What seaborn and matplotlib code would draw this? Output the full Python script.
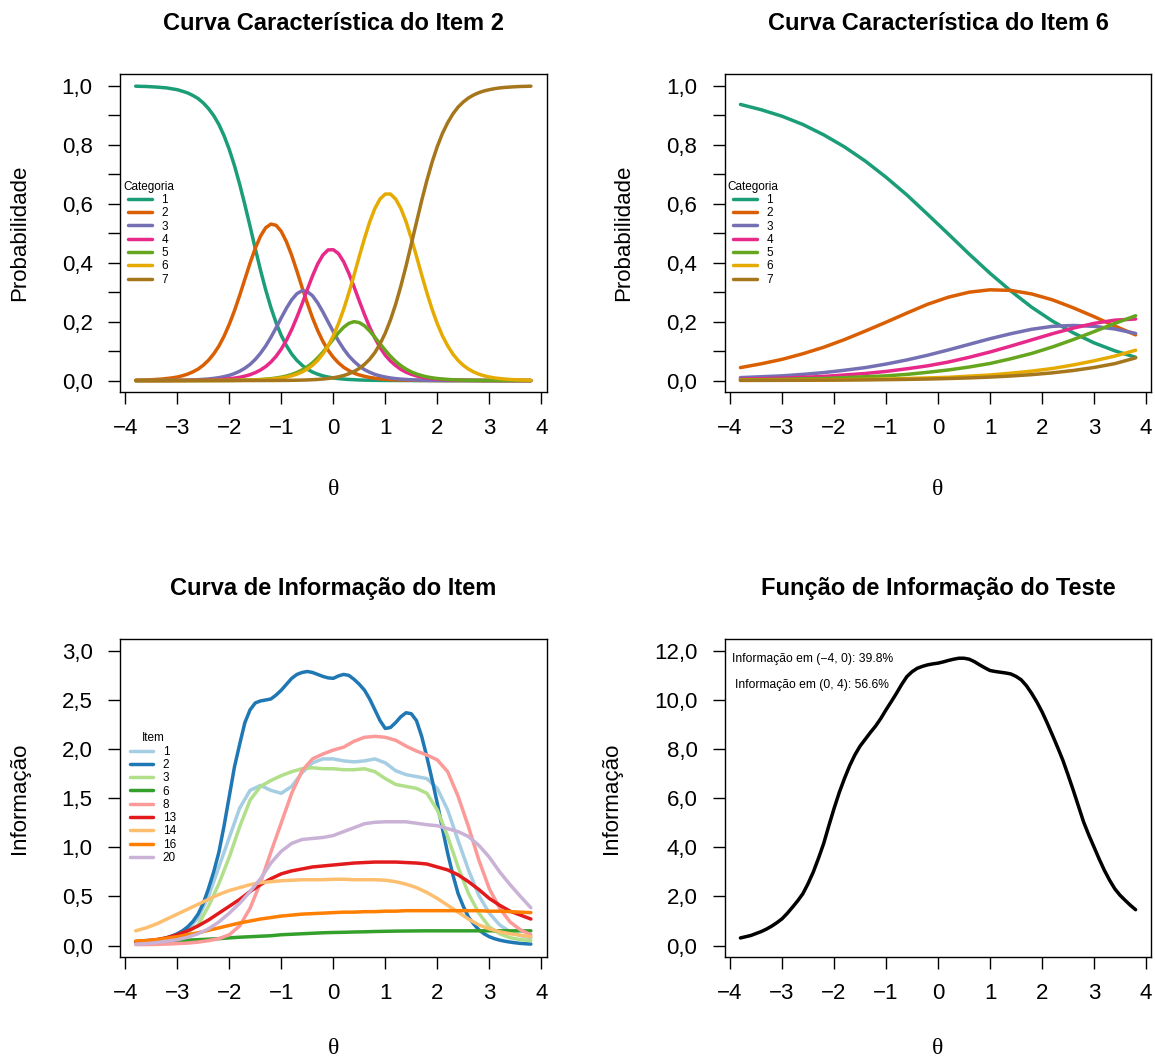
import matplotlib
matplotlib.use('Agg')
import matplotlib.pyplot as plt
import seaborn as sns

# grade de theta com passo 0,1 (painel 1 e curvas mais curvas)
theta_fino = [round(-3.8 + 0.1 * i, 1) for i in range(77)]
# grade com passo 0,2 (painel 3)
theta = [round(-3.8 + 0.2 * i, 1) for i in range(39)]
# grade com passo 0,4 (painel 2)
theta6 = [round(-3.8 + 0.4 * i, 1) for i in range(20)]

# Item 2 - probabilidade por categoria (passo 0,1)
item2_cat1 = [0.999, 0.9983, 0.998, 0.997, 0.996, 0.9945, 0.993, 0.990, 0.987, 0.9818,
              0.976, 0.9674, 0.957, 0.9421, 0.923, 0.8993, 0.869, 0.8306, 0.784, 0.7291,
              0.666, 0.5963, 0.523, 0.4477, 0.375, 0.3079, 0.248, 0.1962, 0.153, 0.1182,
              0.090, 0.0685, 0.052, 0.0388, 0.029, 0.0216, 0.016, 0.012, 0.009, 0.0066,
              0.005, 0.0037, 0.003, 0.002, 0.0015, 0.0011, 0.0008, 0.0006, 0.0004, 0.0003,
              0.0002, 0.0002, 0.0001, 0.0001, 0, 0, 0, 0, 0, 0,
              0, 0, 0, 0, 0, 0, 0, 0, 0, 0,
              0, 0, 0, 0, 0, 0, 0]
item2_cat2 = [0.001, 0.0015, 0.002, 0.0028, 0.004, 0.005, 0.007, 0.0091, 0.012, 0.0164,
              0.022, 0.0295, 0.039, 0.0522, 0.069, 0.0904, 0.117, 0.1507, 0.191, 0.2374,
              0.289, 0.3442, 0.399, 0.4489, 0.490, 0.5185, 0.531, 0.5269, 0.506, 0.4708,
              0.425, 0.3718, 0.316, 0.2628, 0.213, 0.1699, 0.133, 0.1031, 0.079, 0.060,
              0.045, 0.0341, 0.025, 0.019, 0.0145, 0.0106, 0.008, 0.0058, 0.0044, 0.0032,
              0.0024, 0.0018, 0.0013, 0.001, 0.0007, 0.0006, 0.0004, 0.0003, 0.0002, 0.0001,
              0.0001, 0, 0, 0, 0, 0, 0, 0, 0, 0,
              0, 0, 0, 0, 0, 0, 0]
item2_cat3 = [0, 0.0001, 0.0002, 0.0002, 0.0003, 0.0004, 0.0005, 0.0007, 0.0009, 0.0012,
              0.0017, 0.0023, 0.003, 0.0041, 0.0055, 0.0074, 0.0099, 0.0133, 0.0178, 0.0238,
              0.0317, 0.0419, 0.055, 0.0717, 0.0927, 0.1174, 0.1465, 0.1789, 0.213, 0.2458,
              0.274, 0.2947, 0.305, 0.3019, 0.288, 0.2636, 0.233, 0.1992, 0.166, 0.1344,
              0.107, 0.0836, 0.065, 0.0495, 0.037, 0.0282, 0.021, 0.0159, 0.012, 0.0088,
              0.0066, 0.0049, 0.0037, 0.0027, 0.0021, 0.0015, 0.0011, 0.0008, 0.0006, 0.0004,
              0.0003, 0.0002, 0.0002, 0.0001, 0.0001, 0, 0, 0, 0, 0,
              0, 0, 0, 0, 0, 0, 0]
item2_cat4 = [0, 0, 0, 0, 0.0001, 0.0001, 0.0002, 0.0002, 0.0003, 0.0004,
              0.0006, 0.0008, 0.001, 0.0014, 0.0019, 0.0025, 0.0034, 0.0046, 0.0062, 0.0083,
              0.0112, 0.015, 0.0201, 0.0269, 0.0359, 0.0475, 0.0628, 0.0823, 0.107, 0.137,
              0.173, 0.2148, 0.260, 0.3086, 0.355, 0.3956, 0.426, 0.4434, 0.444, 0.4308,
              0.403, 0.3637, 0.318, 0.2702, 0.224, 0.1811, 0.144, 0.1124, 0.086, 0.0663,
              0.051, 0.0379, 0.0284, 0.0213, 0.0159, 0.0118, 0.0089, 0.0066, 0.005, 0.0036,
              0.0028, 0.0021, 0.0015, 0.0012, 0.0008, 0.0006, 0.0005, 0.0003, 0.0002, 0.0002,
              0.0001, 0.0001, 0, 0, 0, 0, 0]
item2_cat5 = [0, 0, 0, 0, 0, 0, 0, 0, 0, 0,
              0, 0.0001, 0.0001, 0.0001, 0.0002, 0.0003, 0.0003, 0.0004, 0.0006, 0.0008,
              0.0011, 0.0015, 0.002, 0.0027, 0.0036, 0.0048, 0.0064, 0.0086, 0.0116, 0.0155,
              0.0206, 0.0272, 0.0359, 0.0468, 0.060, 0.0769, 0.0963, 0.1178, 0.1406, 0.1623,
              0.181, 0.1942, 0.200, 0.1967, 0.186, 0.1684, 0.147, 0.1245, 0.103, 0.0824,
              0.065, 0.0506, 0.0389, 0.0296, 0.0224, 0.0169, 0.0126, 0.0094, 0.007, 0.0052,
              0.0039, 0.0029, 0.0022, 0.0016, 0.0012, 0.0009, 0.0007, 0.0005, 0.0004, 0.0003,
              0.0002, 0.0001, 0.0001, 0, 0, 0, 0]
item2_cat6 = [0, 0, 0, 0, 0, 0, 0, 0, 0, 0,
              0, 0, 0, 0, 0.0001, 0.0002, 0.0003, 0.0003, 0.0005, 0.0006,
              0.0008, 0.0011, 0.0015, 0.002, 0.0027, 0.0037, 0.005, 0.0067, 0.0089, 0.0121,
              0.0162, 0.0218, 0.0292, 0.039, 0.0518, 0.0685, 0.0901, 0.1175, 0.1516, 0.1932,
              0.242, 0.2978, 0.358, 0.4215, 0.482, 0.5382, 0.584, 0.6163, 0.633, 0.633,
              0.616, 0.5839, 0.539, 0.4827, 0.422, 0.3586, 0.298, 0.2421, 0.193, 0.1516,
              0.118, 0.0901, 0.0685, 0.0518, 0.039, 0.0292, 0.0218, 0.0163, 0.0121, 0.009,
              0.0069, 0.005, 0.0038, 0.0028, 0.0021, 0.0016, 0.0012]
item2_cat7 = [0, 0, 0, 0, 0, 0, 0, 0, 0, 0,
              0, 0, 0, 0, 0, 0, 0, 0, 0, 0,
              0, 0.0001, 0.0001, 0.0001, 0.0001, 0.0002, 0.0003, 0.0004, 0.0005, 0.0006,
              0.0009, 0.0012, 0.0016, 0.0021, 0.0029, 0.0039, 0.0052, 0.007, 0.0094, 0.0127,
              0.0171, 0.023, 0.031, 0.0411, 0.055, 0.0724, 0.095, 0.1245, 0.161, 0.2059,
              0.259, 0.3208, 0.389, 0.4626, 0.537, 0.6106, 0.679, 0.7408, 0.794, 0.8389,
              0.875, 0.9047, 0.928, 0.9453, 0.959, 0.9692, 0.977, 0.9829, 0.987, 0.9905,
              0.993, 0.9948, 0.996, 0.9971, 0.998, 0.9984, 0.999]

# Item 6 - curvas suaves (passo 0,4)
item6_cat1 = [0.937, 0.919, 0.897, 0.869, 0.834, 0.793, 0.745, 0.690, 0.630, 0.564,
              0.497, 0.429, 0.364, 0.304, 0.249, 0.202, 0.162, 0.128, 0.101, 0.079]
item6_cat2 = [0.044, 0.057, 0.072, 0.091, 0.113, 0.139, 0.168, 0.198, 0.229, 0.259,
              0.283, 0.300, 0.308, 0.306, 0.294, 0.274, 0.247, 0.217, 0.185, 0.155]
item6_cat3 = [0.010, 0.013, 0.016, 0.021, 0.027, 0.035, 0.044, 0.056, 0.070, 0.086,
              0.104, 0.123, 0.142, 0.159, 0.174, 0.184, 0.187, 0.184, 0.175, 0.160]
item6_cat4 = [0.005, 0.006, 0.008, 0.011, 0.014, 0.019, 0.024, 0.031, 0.040, 0.050,
              0.063, 0.079, 0.097, 0.117, 0.138, 0.159, 0.178, 0.194, 0.205, 0.209]
item6_cat5 = [0.003, 0.003, 0.004, 0.006, 0.007, 0.010, 0.013, 0.016, 0.021, 0.028,
              0.036, 0.046, 0.058, 0.074, 0.092, 0.114, 0.139, 0.166, 0.194, 0.220]
item6_cat6 = [0.001, 0.001, 0.001, 0.002, 0.002, 0.003, 0.004, 0.005, 0.007, 0.009,
              0.011, 0.015, 0.019, 0.025, 0.032, 0.041, 0.053, 0.067, 0.083, 0.103]
item6_cat7 = [0.0005, 0.0006, 0.0008, 0.001, 0.0014, 0.0018, 0.0023, 0.0031, 0.004, 0.0052,
              0.0069, 0.009, 0.0118, 0.0154, 0.0201, 0.0262, 0.0342, 0.0444, 0.0574, 0.077]

# Informacao dos itens (passo 0,2; item 2 com passo 0,1)
info_i1 = [0.02, 0.025, 0.035, 0.06, 0.09, 0.16, 0.28, 0.50, 0.80, 1.10,
           1.40, 1.58, 1.63, 1.58, 1.55, 1.62, 1.76, 1.86, 1.90, 1.90,
           1.88, 1.87, 1.88, 1.90, 1.86, 1.78, 1.74, 1.72, 1.70, 1.60,
           1.38, 1.07, 0.77, 0.51, 0.33, 0.21, 0.14, 0.10, 0.08]
info_i2 = [0.04, 0.042, 0.045, 0.05, 0.055, 0.066, 0.08, 0.098, 0.12, 0.15,
           0.19, 0.245, 0.32, 0.43, 0.58, 0.75, 0.95, 1.22, 1.52, 1.82,
           2.05, 2.27, 2.40, 2.47, 2.49, 2.50, 2.51, 2.55, 2.60, 2.66,
           2.72, 2.76, 2.78, 2.79, 2.78, 2.76, 2.74, 2.725, 2.72, 2.745,
           2.76, 2.75, 2.71, 2.66, 2.60, 2.51, 2.40, 2.29, 2.21, 2.22,
           2.27, 2.33, 2.37, 2.36, 2.29, 2.13, 1.92, 1.69, 1.45, 1.19,
           0.94, 0.72, 0.53, 0.40, 0.29, 0.22, 0.16, 0.12, 0.09, 0.07,
           0.055, 0.044, 0.035, 0.028, 0.022, 0.018, 0.015]
info_i3 = [0.015, 0.02, 0.025, 0.04, 0.07, 0.13, 0.21, 0.40, 0.63, 0.90,
           1.21, 1.48, 1.62, 1.68, 1.73, 1.77, 1.80, 1.81, 1.80, 1.80,
           1.79, 1.79, 1.80, 1.77, 1.70, 1.64, 1.62, 1.60, 1.55, 1.38,
           1.11, 0.80, 0.53, 0.33, 0.19, 0.12, 0.08, 0.06, 0.05]
info_i6 = [0.03, 0.035, 0.04, 0.045, 0.05, 0.055, 0.06, 0.065, 0.07, 0.078,
           0.085, 0.09, 0.095, 0.10, 0.11, 0.115, 0.12, 0.125, 0.13, 0.133,
           0.135, 0.138, 0.14, 0.143, 0.145, 0.147, 0.148, 0.149, 0.15, 0.15,
           0.15, 0.15, 0.15, 0.15, 0.15, 0.15, 0.15, 0.15, 0.15]
info_i8 = [0.01, 0.01, 0.012, 0.015, 0.02, 0.025, 0.035, 0.05, 0.07, 0.11,
           0.20, 0.38, 0.64, 0.95, 1.25, 1.55, 1.78, 1.90, 1.95, 1.99,
           2.02, 2.08, 2.12, 2.13, 2.12, 2.09, 2.03, 1.98, 1.94, 1.89,
           1.77, 1.52, 1.21, 0.87, 0.58, 0.38, 0.24, 0.16, 0.11]
info_i13 = [0.04, 0.05, 0.06, 0.08, 0.11, 0.15, 0.20, 0.26, 0.33, 0.40,
            0.47, 0.55, 0.62, 0.68, 0.73, 0.76, 0.78, 0.80, 0.81, 0.82,
            0.83, 0.84, 0.845, 0.85, 0.85, 0.85, 0.845, 0.84, 0.83, 0.80,
            0.77, 0.72, 0.65, 0.57, 0.48, 0.41, 0.35, 0.31, 0.27]
info_i14 = [0.15, 0.18, 0.22, 0.27, 0.32, 0.37, 0.42, 0.47, 0.52, 0.56,
            0.59, 0.62, 0.64, 0.65, 0.66, 0.665, 0.67, 0.67, 0.67, 0.675,
            0.675, 0.67, 0.67, 0.67, 0.665, 0.65, 0.625, 0.59, 0.54, 0.48,
            0.41, 0.34, 0.27, 0.21, 0.17, 0.14, 0.12, 0.105, 0.09]
info_i16 = [0.045, 0.05, 0.06, 0.075, 0.09, 0.11, 0.13, 0.155, 0.18, 0.205,
            0.23, 0.25, 0.27, 0.285, 0.30, 0.31, 0.32, 0.325, 0.33, 0.335,
            0.34, 0.34, 0.345, 0.345, 0.35, 0.35, 0.355, 0.355, 0.355, 0.355,
            0.355, 0.355, 0.355, 0.355, 0.35, 0.35, 0.345, 0.34, 0.335]
info_i20 = [0.015, 0.02, 0.03, 0.045, 0.06, 0.085, 0.12, 0.17, 0.24, 0.33,
            0.43, 0.55, 0.68, 0.84, 0.96, 1.04, 1.08, 1.09, 1.10, 1.12,
            1.16, 1.20, 1.24, 1.255, 1.26, 1.26, 1.26, 1.245, 1.23, 1.22,
            1.19, 1.16, 1.11, 1.02, 0.90, 0.75, 0.62, 0.50, 0.385]

# Informacao do teste (passo 0,1)
info_teste = [0.31, 0.36, 0.41, 0.49, 0.57, 0.67, 0.79, 0.93, 1.09, 1.31,
              1.56, 1.82, 2.11, 2.52, 2.99, 3.55, 4.15, 4.88, 5.58, 6.23,
              6.80, 7.32, 7.76, 8.12, 8.40, 8.68, 8.94, 9.25, 9.60, 9.93,
              10.27, 10.63, 10.95, 11.15, 11.29, 11.37, 11.43, 11.47, 11.50, 11.55,
              11.61, 11.66, 11.70, 11.70, 11.66, 11.56, 11.43, 11.31, 11.20, 11.16,
              11.13, 11.10, 11.06, 10.96, 10.82, 10.58, 10.27, 9.92, 9.52, 9.06,
              8.57, 8.07, 7.55, 6.95, 6.33, 5.68, 5.03, 4.50, 4.01, 3.52,
              3.06, 2.66, 2.31, 2.05, 1.84, 1.64, 1.46]

categorias = ['1', '2', '3', '4', '5', '6', '7']
itens = ['1', '2', '3', '6', '8', '13', '14', '16', '20']
x_ticks = [-4, -3, -2, -1, 0, 1, 2, 3, 4]
x_labels = ['\u22124', '\u22123', '\u22122', '\u22121', '0', '1', '2', '3', '4']
texto_neg = 'Informação em (\u22124, 0): 39.8%'
texto_pos = 'Informação em (0, 4): 56.6%'

sns.set_style('ticks')
plt.rcParams['font.family'] = ['Liberation Sans', 'DejaVu Sans']
plt.rcParams['axes.edgecolor'] = 'black'
plt.rcParams['xtick.color'] = 'black'
plt.rcParams['ytick.color'] = 'black'
plt.rcParams['text.color'] = 'black'
plt.rcParams['axes.labelcolor'] = 'black'

cores_cat = sns.color_palette('Dark2', 7)
cores_item = sns.color_palette('Paired', 9)
serif = ['Liberation Serif', 'DejaVu Serif']


def virgula(v):
    return f'{v:.1f}'.replace('.', ',')


def formatar(ax, titulo, ylabel, ylim, yticks, ylabels, yminor=None, theta_pad=29):
    ax.set_xlim(-4.104, 4.104)
    ax.set_ylim(*ylim)
    ax.set_xticks(x_ticks)
    ax.set_xticklabels(x_labels)
    ax.set_yticks(yticks)
    ax.set_yticklabels(ylabels)
    if yminor is not None:
        ax.set_yticks(yminor, minor=True)
    ax.tick_params(axis='both', which='both', length=8.6, width=1.0, labelsize=16)
    ax.tick_params(axis='x', pad=10)
    ax.tick_params(axis='y', pad=11)
    for s in ax.spines.values():
        s.set_visible(True)
        s.set_linewidth(1.0)
    ax.set_title(titulo, fontsize=17, fontweight='bold', pad=32)
    ax.set_xlabel('θ', fontsize=17, family=serif, labelpad=theta_pad)
    ax.set_ylabel(ylabel, fontsize=16, labelpad=23)


fig = plt.figure(figsize=(11.55, 10.63), dpi=100)
ax1 = fig.add_axes([0.1038, 0.6309, 0.3695, 0.2994])
ax2 = fig.add_axes([0.6274, 0.6309, 0.3695, 0.2994])
ax3 = fig.add_axes([0.1038, 0.0994, 0.3695, 0.2994])
ax4 = fig.add_axes([0.6274, 0.0994, 0.3695, 0.2994])

lw = 2.5
estilo_linha = dict(linewidth=lw, estimator=None, solid_capstyle='round',
                    solid_joinstyle='round')
prob_ticks = [0.0, 0.2, 0.4, 0.6, 0.8, 1.0]
prob_minor = [0.1, 0.3, 0.5, 0.7, 0.9]

# painel 1
series2 = [item2_cat1, item2_cat2, item2_cat3, item2_cat4, item2_cat5, item2_cat6, item2_cat7]
for lab, ys, c in zip(categorias, series2, cores_cat):
    sns.lineplot(x=theta_fino, y=ys, color=c, label=lab, ax=ax1, **estilo_linha)
formatar(ax1, 'Curva Característica do Item 2', 'Probabilidade', (-0.04, 1.04),
         prob_ticks, [virgula(v) for v in prob_ticks], prob_minor)

# painel 2
series6 = [item6_cat1, item6_cat2, item6_cat3, item6_cat4, item6_cat5, item6_cat6, item6_cat7]
for lab, ys, c in zip(categorias, series6, cores_cat):
    sns.lineplot(x=theta6, y=ys, color=c, label=lab, ax=ax2, **estilo_linha)
formatar(ax2, 'Curva Característica do Item 6', 'Probabilidade', (-0.04, 1.04),
         prob_ticks, [virgula(v) for v in prob_ticks], prob_minor)

# painel 3
series_info = [info_i1, info_i2, info_i3, info_i6, info_i8, info_i13, info_i14, info_i16, info_i20]
for lab, ys, c in zip(itens, series_info, cores_item):
    xs = theta_fino if len(ys) == len(theta_fino) else theta
    sns.lineplot(x=xs, y=ys, color=c, label=lab, ax=ax3, **estilo_linha)
info_ticks = [0.0, 0.5, 1.0, 1.5, 2.0, 2.5, 3.0]
formatar(ax3, 'Curva de Informação do Item', 'Informação', (-0.12, 3.12),
         info_ticks, [virgula(v) for v in info_ticks], theta_pad=24)

# painel 4
sns.lineplot(x=theta_fino, y=info_teste, color='black', ax=ax4, **estilo_linha)
teste_ticks = [0, 2, 4, 6, 8, 10, 12]
formatar(ax4, 'Função de Informação do Teste', 'Informação', (-0.48, 12.48),
         teste_ticks, [virgula(v) for v in teste_ticks], theta_pad=24)
ax4.text(-2.42, 11.66, texto_neg, ha='center', va='center', fontsize=8.7)
ax4.text(-2.42, 10.60, texto_pos, ha='center', va='center', fontsize=8.7)

leg_kw = dict(loc='center left', frameon=False, fontsize=8.5, title_fontsize=8.5,
              handlelength=2.0, handletextpad=0.8, labelspacing=0.11,
              borderpad=0, borderaxespad=0)
ax1.legend(title='Categoria', bbox_to_anchor=(0.007, 0.5), **leg_kw)
ax2.legend(title='Categoria', bbox_to_anchor=(0.007, 0.5), **leg_kw)
ax3.legend(title='Item', bbox_to_anchor=(0.023, 0.5), **leg_kw)

fig.savefig('out.png', dpi=100)
